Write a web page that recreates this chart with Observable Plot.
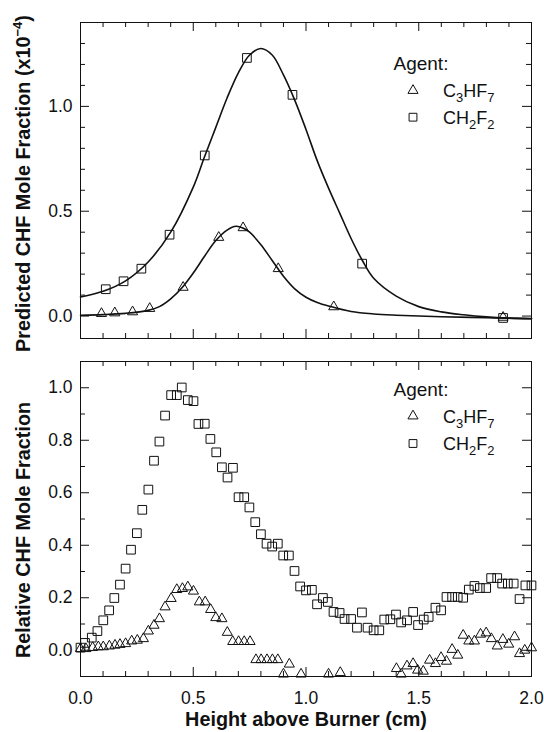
<!DOCTYPE html>
<html>
<head>
<meta charset="utf-8">
<script src="https://cdn.jsdelivr.net/npm/d3@7"></script>
<script src="https://cdn.jsdelivr.net/npm/@observablehq/plot@0.6"></script>
<style>
  html, body { margin: 0; padding: 0; background: #fff; }
  body { width: 544px; height: 732px; overflow: hidden; font-family: "Liberation Sans", Arial, sans-serif; }
  #chart svg { display: block; }
</style>
</head>
<body>
<div id="chart"></div>
<script>
// ---------- Axis ticks and labels ----------
const xMajor = [0, 0.5, 1, 1.5, 2];
const xMinor = [0.1, 0.2, 0.3, 0.4, 0.6, 0.7, 0.8, 0.9, 1.1, 1.2, 1.3, 1.4, 1.6, 1.7, 1.8, 1.9];
const xTickLabels = ["0.0", "0.5", "1.0", "1.5", "2.0"];
const topYMajor = [0, 0.5, 1.0];
const topYTickLabels = ["0.0", "0.5", "1.0"];
const topYMinor = [0.1, 0.2, 0.3, 0.4, 0.6, 0.7, 0.8, 0.9, 1.1, 1.2, 1.3];
const botYMajor = [0, 0.2, 0.4, 0.6, 0.8, 1.0];
const botYTickLabels = ["0.0", "0.2", "0.4", "0.6", "0.8", "1.0"];
const botYMinor = [0.1, 0.3, 0.5, 0.7, 0.9];

const xTitle = "Height above Burner (cm)";
const topYTitle = "Predicted CHF Mole Fraction (x10-4)";
const botYTitle = "Relative CHF Mole Fraction";
const legendTitle = "Agent:";
const agents = ["C3HF7", "CH2F2"];

// ---------- Top panel: predicted CHF mole fraction (x1e-4) ----------
const predX_C3HF7 = [0.093, 0.152, 0.231, 0.307, 0.455, 0.613, 0.721, 0.877, 1.123, 1.874];
const predY_C3HF7 = [0.012, 0.015, 0.020, 0.036, 0.137, 0.375, 0.421, 0.226, 0.044, -0.006];
const predX_CH2F2 = [0.112, 0.191, 0.270, 0.395, 0.551, 0.738, 0.940, 1.249, 1.874];
const predY_CH2F2 = [0.128, 0.166, 0.226, 0.388, 0.766, 1.231, 1.055, 0.250, -0.009];

// fitted curves
const fitX_CH2F2 = [0, 0.1, 0.2, 0.3, 0.4, 0.5, 0.55, 0.6, 0.65, 0.7, 0.75, 0.8, 0.85, 0.9, 0.95, 1.0, 1.05, 1.1, 1.15, 1.2, 1.25, 1.3, 1.4, 1.5, 1.6, 1.7, 1.8, 1.9, 2.0];
const fitY_CH2F2 = [0.091, 0.118, 0.168, 0.258, 0.40, 0.615, 0.76, 0.90, 1.04, 1.16, 1.245, 1.276, 1.245, 1.15, 1.03, 0.89, 0.74, 0.61, 0.49, 0.37, 0.265, 0.18, 0.095, 0.045, 0.02, 0.006, -0.004, -0.01, -0.013];
const fitX_C3HF7 = [0, 0.1, 0.2, 0.3, 0.35, 0.4, 0.45, 0.5, 0.55, 0.6, 0.65, 0.69, 0.72, 0.75, 0.8, 0.85, 0.9, 0.95, 1.0, 1.05, 1.1, 1.2, 1.3, 1.4, 1.5, 1.6, 1.8, 2.0];
const fitY_C3HF7 = [0.004, 0.007, 0.013, 0.027, 0.045, 0.082, 0.135, 0.205, 0.285, 0.36, 0.41, 0.428, 0.42, 0.40, 0.34, 0.265, 0.19, 0.13, 0.09, 0.065, 0.048, 0.022, 0.01, 0.004, 0.0, -0.003, -0.008, -0.012];

// ---------- Bottom panel: relative CHF mole fraction (measured) ----------
const relX_CH2F2 = [0.000, 0.020, 0.050, 0.075, 0.101, 0.127, 0.150, 0.175, 0.200, 0.224, 0.250, 0.274, 0.301, 0.326, 0.350, 0.375, 0.402, 0.427, 0.449, 0.476, 0.501, 0.523, 0.551, 0.576, 0.602, 0.627, 0.652, 0.676, 0.701, 0.726, 0.749, 0.775, 0.800, 0.825, 0.850, 0.875, 0.899, 0.924, 0.949, 0.974, 1.000, 1.026, 1.049, 1.075, 1.097, 1.122, 1.149, 1.171, 1.200, 1.226, 1.248, 1.273, 1.300, 1.325, 1.347, 1.374, 1.399, 1.422, 1.448, 1.475, 1.497, 1.522, 1.544, 1.574, 1.599, 1.623, 1.648, 1.673, 1.697, 1.722, 1.747, 1.771, 1.799, 1.821, 1.848, 1.870, 1.895, 1.921, 1.947, 1.973, 2.000];
const relY_CH2F2 = [0.010, 0.028, 0.048, 0.073, 0.114, 0.152, 0.199, 0.250, 0.311, 0.383, 0.446, 0.535, 0.612, 0.722, 0.795, 0.894, 0.972, 0.972, 1.001, 0.953, 0.949, 0.862, 0.863, 0.805, 0.754, 0.697, 0.658, 0.695, 0.583, 0.583, 0.544, 0.488, 0.442, 0.406, 0.395, 0.406, 0.361, 0.361, 0.302, 0.243, 0.228, 0.230, 0.175, 0.199, 0.184, 0.146, 0.142, 0.119, 0.119, 0.086, 0.144, 0.086, 0.076, 0.076, 0.117, 0.118, 0.136, 0.106, 0.114, 0.146, 0.096, 0.117, 0.127, 0.162, 0.152, 0.203, 0.203, 0.203, 0.200, 0.231, 0.245, 0.237, 0.237, 0.275, 0.275, 0.254, 0.254, 0.254, 0.195, 0.247, 0.247];
const relX_C3HF7 = [0.000, 0.024, 0.054, 0.079, 0.101, 0.128, 0.153, 0.175, 0.200, 0.227, 0.252, 0.279, 0.301, 0.326, 0.350, 0.375, 0.402, 0.427, 0.452, 0.476, 0.501, 0.527, 0.553, 0.577, 0.600, 0.627, 0.651, 0.675, 0.701, 0.726, 0.752, 0.778, 0.801, 0.827, 0.851, 0.875, 0.900, 0.926, 0.978, 1.100, 1.152, 1.401, 1.422, 1.448, 1.475, 1.495, 1.520, 1.548, 1.574, 1.599, 1.623, 1.648, 1.673, 1.697, 1.722, 1.747, 1.774, 1.799, 1.822, 1.848, 1.873, 1.899, 1.925, 1.947, 1.970, 2.000];
const relY_C3HF7 = [0.006, 0.006, 0.010, 0.013, 0.013, 0.016, 0.019, 0.022, 0.025, 0.035, 0.038, 0.044, 0.073, 0.095, 0.120, 0.165, 0.197, 0.231, 0.235, 0.241, 0.225, 0.184, 0.184, 0.155, 0.124, 0.120, 0.068, 0.033, 0.033, 0.033, 0.033, -0.036, -0.036, -0.036, -0.036, -0.036, -0.091, -0.053, -0.091, -0.091, -0.085, -0.070, -0.091, -0.060, -0.051, -0.076, -0.080, -0.038, -0.051, -0.028, -0.042, 0.003, -0.019, 0.057, 0.035, 0.035, 0.061, 0.066, 0.044, 0.016, 0.041, 0.023, 0.051, -0.013, 0.000, 0.009];

// ---------- helpers ----------
const FONT = "Liberation Sans, Arial, Helvetica, sans-serif";
const pts = (xs, ys) => xs.map((x, i) => ({x, y: ys[i]}));
const INK = "#111";
const triR = 3.75, sqR = 4.9;

function frameTicks(yMaj, yMin, W, H) {
  const s = {stroke: INK, strokeWidth: 1};
  const MJ = 9, MN = 5;
  return [
    Plot.tickX(xMajor, {x: d => d, insetTop: H - MJ, ...s}),
    Plot.tickX(xMajor, {x: d => d, insetBottom: H - MJ, ...s}),
    Plot.tickX(xMinor, {x: d => d, insetTop: H - MN, ...s}),
    Plot.tickX(xMinor, {x: d => d, insetBottom: H - MN, ...s}),
    Plot.tickY(yMaj, {y: d => d, insetRight: W - MJ, ...s}),
    Plot.tickY(yMaj, {y: d => d, insetLeft: W - MJ, ...s}),
    Plot.tickY(yMin, {y: d => d, insetRight: W - MN, ...s}),
    Plot.tickY(yMin, {y: d => d, insetLeft: W - MN, ...s})
  ];
}

function legend(dyTitle, dyA, dyB) {
  const t = {frameAnchor: "top-right", textAnchor: "start", lineAnchor: "middle", fill: INK};
  return [
    Plot.text([legendTitle], {...t, dx: -138, dy: dyTitle, fontSize: 19}),
    Plot.dot([0], {frameAnchor: "top-right", dx: -118.5, dy: dyA, symbol: "triangle", r: triR, stroke: INK, fill: "none", strokeWidth: 1}),
    Plot.dot([0], {frameAnchor: "top-right", dx: -118.5, dy: dyB, symbol: "square", r: sqR * 0.9, stroke: INK, fill: "none", strokeWidth: 1}),
    Plot.text([agents[0]], {...t, dx: -88.5, dy: dyA + 1, fontSize: 18}),
    Plot.text([agents[1]], {...t, dx: -88.5, dy: dyB + 1, fontSize: 18})
  ];
}

function yTickLabels(vals, labels) {
  return Plot.text(vals, {y: d => d, text: (d, i) => labels[i], frameAnchor: "left", textAnchor: "end", lineAnchor: "middle", dx: -8, fontSize: 17.5, fill: INK});
}

// ---------- top panel ----------
const W = 451;
const topPlot = Plot.plot({
  width: 544, height: 340,
  marginLeft: 80, marginRight: 13, marginTop: 22, marginBottom: 2,
  x: {domain: [0, 2], axis: null},
  y: {domain: [-0.107, 1.4], axis: null},
  style: {fontFamily: FONT, background: "white", color: INK, overflow: "visible"},
  marks: [
    Plot.frame({stroke: INK, strokeWidth: 1}),
    ...frameTicks(topYMajor, topYMinor, W, 316),
    yTickLabels(topYMajor, topYTickLabels),
    Plot.line(pts(fitX_CH2F2, fitY_CH2F2), {x: "x", y: "y", curve: "catmull-rom", stroke: INK, strokeWidth: 1.6}),
    Plot.line(pts(fitX_C3HF7, fitY_C3HF7), {x: "x", y: "y", curve: "catmull-rom", stroke: INK, strokeWidth: 1.6}),
    Plot.dot(pts(predX_CH2F2, predY_CH2F2), {x: "x", y: "y", symbol: "square", r: sqR, stroke: INK, fill: "none", strokeWidth: 1}),
    Plot.dot(pts(predX_C3HF7, predY_C3HF7), {x: "x", y: "y", symbol: "triangle", r: triR, stroke: INK, fill: "none", strokeWidth: 1}),
    ...legend(41, 68, 94.7),
    Plot.text([topYTitle], {frameAnchor: "left", textAnchor: "middle", lineAnchor: "middle", rotate: -90, dx: -57, dy: 3, fontSize: 19.8, fontWeight: "bold", fill: INK})
  ]
});

// ---------- bottom panel ----------
const botPlot = Plot.plot({
  width: 544, height: 392,
  marginLeft: 80, marginRight: 13, marginTop: 21, marginBottom: 56,
  x: {domain: [0, 2], axis: null},
  y: {domain: [-0.1, 1.1], axis: null},
  style: {fontFamily: FONT, background: "white", color: INK, overflow: "visible"},
  marks: [
    Plot.frame({stroke: INK, strokeWidth: 1}),
    ...frameTicks(botYMajor, botYMinor, W, 315),
    yTickLabels(botYMajor, botYTickLabels),
    Plot.text(xMajor, {x: d => d, text: (d, i) => xTickLabels[i], frameAnchor: "bottom", lineAnchor: "top", dy: 15, fontSize: 17.5, fill: INK}),
    Plot.dot(pts(relX_CH2F2, relY_CH2F2), {x: "x", y: "y", symbol: "square", r: sqR, stroke: INK, fill: "none", strokeWidth: 1}),
    Plot.dot(pts(relX_C3HF7, relY_C3HF7), {x: "x", y: "y", symbol: "triangle", r: triR, stroke: INK, fill: "none", strokeWidth: 1}),
    ...legend(28, 54.5, 82),
    Plot.text([botYTitle], {frameAnchor: "left", textAnchor: "middle", lineAnchor: "middle", rotate: -90, dx: -57, dy: 11, fontSize: 19.8, fontWeight: "bold", fill: INK}),
    Plot.text([xTitle], {frameAnchor: "bottom", textAnchor: "middle", lineAnchor: "middle", dy: 43, fontSize: 19.8, fontWeight: "bold", fill: INK})
  ]
});

// ---------- rich text (sub/superscripts) ----------
const rich = {
  "C3HF7": [["C", ""], ["3", "sub"], ["HF", ""], ["7", "sub"]],
  "CH2F2": [["CH", ""], ["2", "sub"], ["F", ""], ["2", "sub"]],
  "Predicted CHF Mole Fraction (x10-4)": [["Predicted CHF Mole Fraction (x10", ""], ["\u22124", "sup"], [")", ""]]
};
function applyRich(svg) {
  d3.select(svg).selectAll("text").each(function () {
    const t = this.textContent;
    if (!(t in rich)) return;
    const fs = parseFloat(this.getAttribute("font-size") || getComputedStyle(this).fontSize) || 18;
    this.textContent = "";
    let shift = 0;
    for (const [s, kind] of rich[t]) {
      const ts = document.createElementNS("http://www.w3.org/2000/svg", "tspan");
      const target = kind === "sub" ? fs * 0.28 : kind === "sup" ? -fs * 0.42 : 0;
      ts.setAttribute("dy", target - shift);
      shift = target;
      if (kind) ts.setAttribute("font-size", fs * 0.72);
      ts.textContent = s;
      this.appendChild(ts);
    }
  });
}
applyRich(topPlot);
applyRich(botPlot);

document.getElementById("chart").append(topPlot, botPlot);
</script>
</body>
</html>
